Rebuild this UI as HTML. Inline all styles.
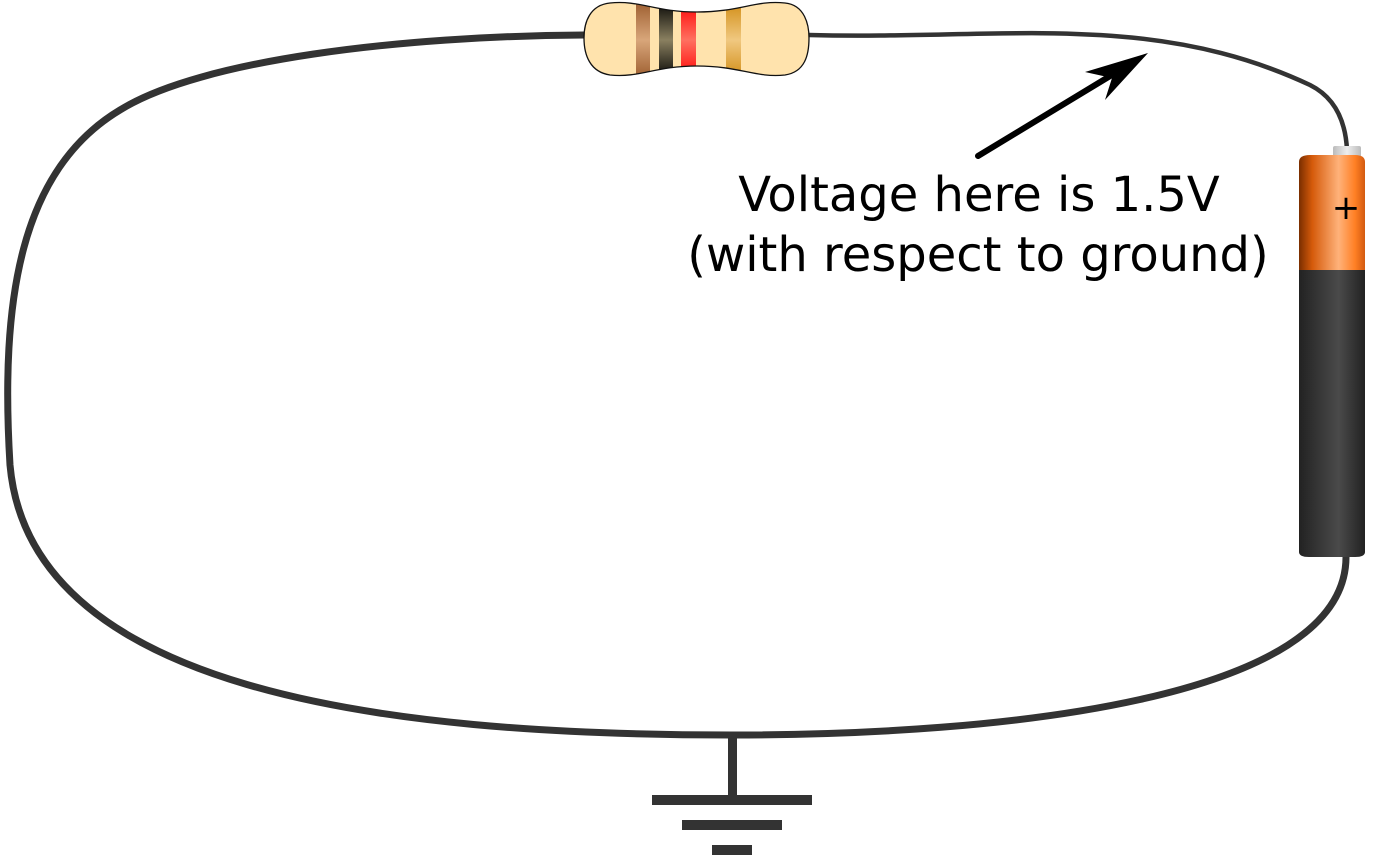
<!DOCTYPE html>
<html><head><meta charset="utf-8"><style>
html,body{margin:0;padding:0;background:#fff;width:1394px;height:855px;overflow:hidden}
svg{display:block}
</style></head><body>
<svg width="1394" height="855" viewBox="0 0 1394 855" xmlns="http://www.w3.org/2000/svg">
<defs>
<linearGradient id="org" x1="0" x2="1" y1="0" y2="0">
<stop offset="0" stop-color="#7a2e00"/><stop offset="0.2" stop-color="#d55a0a"/><stop offset="0.6" stop-color="#ffb27a"/><stop offset="0.85" stop-color="#ff7f24"/><stop offset="1" stop-color="#d25a10"/></linearGradient>
<linearGradient id="blk" x1="0" x2="1"><stop offset="0" stop-color="#222"/><stop offset="0.6" stop-color="#4a4a4a"/><stop offset="1" stop-color="#222"/></linearGradient>
<linearGradient id="cap" x1="0" x2="1"><stop offset="0" stop-color="#bbb"/><stop offset="0.5" stop-color="#eee"/><stop offset="1" stop-color="#bbb"/></linearGradient>
<linearGradient id="br" x1="0" x2="0" y1="0" y2="1"><stop offset="0" stop-color="#9a5a2c"/><stop offset="0.5" stop-color="#d8a67a"/><stop offset="1" stop-color="#9a5a2c"/></linearGradient>
<linearGradient id="bk" x1="0" x2="0" y1="0" y2="1"><stop offset="0" stop-color="#000"/><stop offset="0.5" stop-color="#8a8060"/><stop offset="1" stop-color="#000"/></linearGradient>
<linearGradient id="rd" x1="0" x2="0" y1="0" y2="1"><stop offset="0" stop-color="#f00"/><stop offset="0.5" stop-color="#ff7060"/><stop offset="1" stop-color="#f00"/></linearGradient>
<linearGradient id="gd" x1="0" x2="0" y1="0" y2="1"><stop offset="0" stop-color="#d08a10"/><stop offset="0.5" stop-color="#f0c880"/><stop offset="1" stop-color="#d08a10"/></linearGradient>
<clipPath id="rc"><path d="M610,3 C640,0 655,12 697,12 C740,12 755,0 785,3 C805,5 809,25 809,38 C809,55 805,72 785,75 C755,78 740,66 697,66 C655,66 640,78 610,75 C590,72 584,55 584,38 C584,22 590,5 610,3 Z"/></clipPath>
</defs>
<path d="M584,35 C400,36 200,60 120,110 C20,170 0,300 10,465 C30,690 380,735 732,735 C1000,735 1346,700 1346,557" fill="none" stroke="#333" stroke-width="7"/>
<path d="M809,35 C1000,40 1150,10 1310,85 C1340,100 1346,130 1347,150" fill="none" stroke="#333" stroke-width="4.5"/>
<rect x="728" y="735" width="9" height="65" fill="#333"/>
<rect x="652" y="795" width="160" height="10" fill="#333"/>
<rect x="682" y="820" width="100" height="10" fill="#333"/>
<rect x="712" y="845" width="40" height="10" fill="#333"/>
<g clip-path="url(#rc)">
<rect x="580" y="0" width="235" height="80" fill="#ffe3ad"/>
<rect x="636" y="0" width="14" height="80" fill="url(#br)"/>
<rect x="659" y="0" width="14" height="80" fill="url(#bk)"/>
<rect x="681" y="0" width="15" height="80" fill="url(#rd)"/>
<rect x="726" y="0" width="15" height="80" fill="url(#gd)"/>
</g>
<path d="M610,3 C640,0 655,12 697,12 C740,12 755,0 785,3 C805,5 809,25 809,38 C809,55 805,72 785,75 C755,78 740,66 697,66 C655,66 640,78 610,75 C590,72 584,55 584,38 C584,22 590,5 610,3 Z" fill="none" stroke="#111" stroke-width="1.3"/>
<rect x="1333" y="146" width="28" height="12" rx="2" fill="url(#cap)"/>
<path d="M1299,162 Q1299,155 1310,155 L1355,155 Q1365,155 1365,162 L1365,270 L1299,270 Z" fill="url(#org)"/>
<path d="M1299,270 L1365,270 L1365,552 Q1365,557 1355,557 L1309,557 Q1299,557 1299,552 Z" fill="url(#blk)"/>
<text x="1346" y="219" font-family="DejaVu Sans, Liberation Sans, sans-serif" font-size="34" text-anchor="middle" fill="#000">+</text>
<line x1="978" y1="156" x2="1120" y2="70" stroke="#000" stroke-width="6" stroke-linecap="round"/>
<path d="M1148,53 L1085,72 L1112,78 L1105,100 Z" fill="#000"/>
<text x="979" y="211" font-family="DejaVu Sans, Liberation Sans, sans-serif" font-size="48" fill="#000" text-anchor="middle">Voltage here is 1.5V</text>
<text x="978" y="271" font-family="DejaVu Sans, Liberation Sans, sans-serif" font-size="48" fill="#000" text-anchor="middle">(with respect to ground)</text>
</svg>
</body></html>
